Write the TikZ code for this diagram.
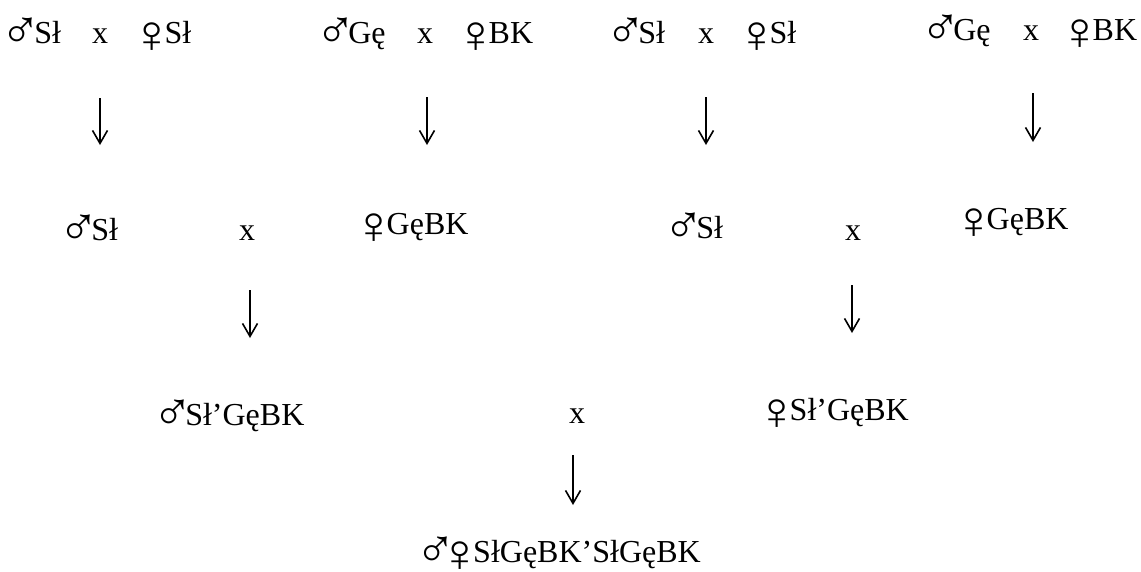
\documentclass[tikz,border=0pt]{standalone}
\usepackage{fontspec}
\setmainfont{Liberation Serif}
% sex signs: enlarged and trimmed of their wide side bearings
\newcommand\msym{\kern-10pt\raisebox{-5pt}{\scalebox{1.7}{♂}}\kern-7.5pt}
\newcommand\fsym{\kern-13pt\raisebox{-9.5pt}{\scalebox{1.8}[1.65]{♀}}\kern-8.5pt}
\usetikzlibrary{arrows.meta}
\tikzset{
  lbl/.style={inner sep=0pt, outer sep=0pt, anchor=base west, font=\fontsize{32}{38}\selectfont},
  cross/.style={inner sep=0pt, outer sep=0pt, anchor=base, font=\fontsize{32}{38}\selectfont},
  descent/.style={line width=1.8pt, -{Straight Barb[length=13pt, width=15pt, line width=1.6pt]}}
}
\begin{document}
\begin{tikzpicture}[x=1pt, y=-1pt]
\useasboundingbox (0,0) rectangle (1141,571);

% first generation crosses
\node[lbl]   (m1) at (11,43)   {\msym Sł};
\node[cross] (x1) at (100,43)  {x};
\node[lbl]   (f1) at (143,43)  {\fsym Sł};
\node[lbl]   (m2) at (325,43)  {\msym Gę};
\node[cross] (x2) at (425,43)  {x};
\node[lbl]   (f2) at (467,43)  {\fsym BK};
\node[lbl]   (m3) at (615,43)  {\msym Sł};
\node[cross] (x3) at (706,43)  {x};
\node[lbl]   (f3) at (748,43)  {\fsym Sł};
\node[lbl]   (m4) at (930,40)  {\msym Gę};
\node[cross] (x4) at (1031,40) {x};
\node[lbl]   (f4) at (1071,40) {\fsym BK};

\coordinate (a1s) at (100,98);  \coordinate (a1e) at (100,145);
\coordinate (a2s) at (427,97);  \coordinate (a2e) at (427,145);
\coordinate (a3s) at (706,97);  \coordinate (a3e) at (706,145);
\coordinate (a4s) at (1033,93); \coordinate (a4e) at (1033,142);
\draw[descent] (a1s) -- (a1e);
\draw[descent] (a2s) -- (a2e);
\draw[descent] (a3s) -- (a3e);
\draw[descent] (a4s) -- (a4e);

% second generation
\node[lbl]   (m5) at (68,240)  {\msym Sł};
\node[cross] (x5) at (247,240) {x};
\node[lbl]   (f5) at (365,234) {\fsym GęBK};
\node[lbl]   (m6) at (673,238) {\msym Sł};
\node[cross] (x6) at (853,240) {x};
\node[lbl]   (f6) at (965,229) {\fsym GęBK};

\coordinate (a5s) at (250,290); \coordinate (a5e) at (250,338);
\coordinate (a6s) at (852,285); \coordinate (a6e) at (852,333);
\draw[descent] (a5s) -- (a5e);
\draw[descent] (a6s) -- (a6e);

% third generation
\node[lbl]   (m7) at (162,425) {\msym Sł’GęBK};
\node[cross] (x7) at (577,423) {x};
\node[lbl]   (f7) at (768,420) {\fsym Sł’GęBK};

\coordinate (a7s) at (573,455); \coordinate (a7e) at (573,505);
\draw[descent] (a7s) -- (a7e);

% final offspring
\node[cross] (p) at (563,562) {\msym\kern3pt\fsym SłGęBK’SłGęBK};
\end{tikzpicture}
\end{document}
